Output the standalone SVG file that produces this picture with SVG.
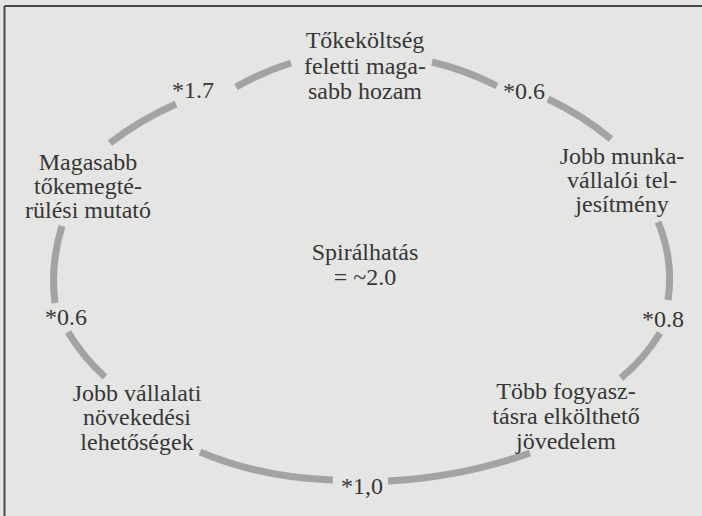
<svg xmlns="http://www.w3.org/2000/svg" width="702" height="516" viewBox="0 0 702 516">
<style>
.t{font-family:"Liberation Serif","Times New Roman",serif;font-size:24px;fill:#363636;text-anchor:middle}
.l{font-family:"Liberation Serif","Times New Roman",serif;font-size:24px;fill:#363636}
.arc{fill:none;stroke:#a3a3a3;stroke-width:7;stroke-linecap:butt}
</style>
<rect x="0" y="0" width="702" height="516" fill="#e5e5e4"/>
<path d="M4.5,6 H702 M4.5,6 V516" fill="none" stroke="#4a4a4a" stroke-width="2"/>
<g id="connectors">
<path class="arc" d="M236,87 Q262,72 291,63"/>
<path class="arc" d="M176,104 Q140,120 110,143"/>
<path class="arc" d="M432,62 Q466,70 497,86"/>
<path class="arc" d="M548,99 Q582,115 611,139"/>
<path class="arc" d="M658,222 Q674,260 668,300"/>
<path class="arc" d="M660,333 Q645,358 621,378"/>
<path class="arc" d="M530,453 Q462,477 388,481"/>
<path class="arc" d="M333,480 Q262,478 200,452"/>
<path class="arc" d="M68,332 Q83,357 105,377"/>
<path class="arc" d="M62,226 Q50,265 55,303"/>
<text class="l" x="172" y="98">*1.7</text>
<text class="l" x="503" y="99">*0.6</text>
<text class="l" x="45" y="325">*0.6</text>
<text class="l" x="642" y="327">*0.8</text>
<text class="l" x="341" y="494">*1,0</text>
</g>
<g id="node-top">
<text class="t" x="365" y="48">Tőkeköltség</text>
<text class="t" x="365" y="74">feletti maga-</text>
<text class="t" x="365" y="99">sabb hozam</text>
</g>
<g id="node-right">
<text class="t" x="622" y="164">Jobb munka-</text>
<text class="t" x="622" y="188">vállalói tel-</text>
<text class="t" x="622" y="212">jesítmény</text>
</g>
<g id="node-bottom-right">
<text class="t" x="566" y="399">Több fogyasz-</text>
<text class="t" x="566" y="424">tásra elkölthető</text>
<text class="t" x="566" y="449">jövedelem</text>
</g>
<g id="node-bottom-left">
<text class="t" x="137" y="401">Jobb vállalati</text>
<text class="t" x="137" y="425">növekedési</text>
<text class="t" x="137" y="450">lehetőségek</text>
</g>
<g id="node-left">
<text class="t" x="88" y="170">Magasabb</text>
<text class="t" x="88" y="194">tőkemegté-</text>
<text class="t" x="88" y="218">rülési mutató</text>
</g>
<g id="node-center">
<text class="t" x="365" y="260">Spirálhatás</text>
<text class="t" x="365" y="285">= ~2.0</text>
</g>
</svg>
